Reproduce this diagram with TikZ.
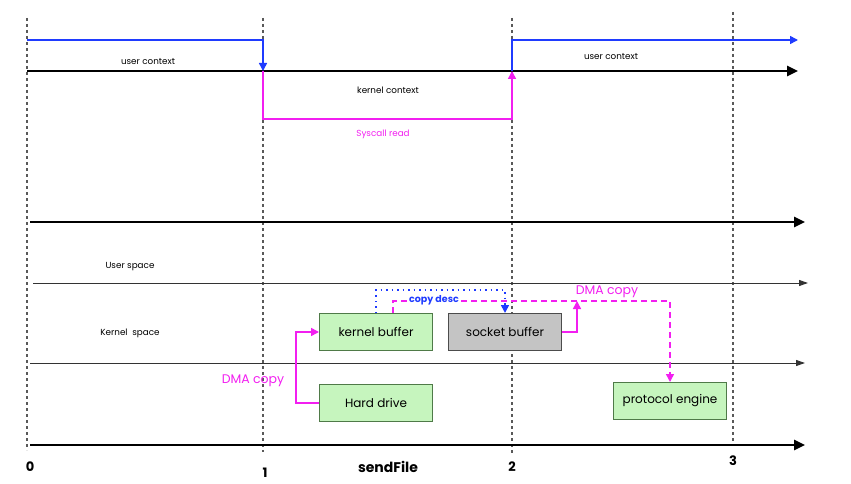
\documentclass[tikz,border=0pt]{standalone}
\usepackage{fontspec}
\setmainfont{Poppins}
\usetikzlibrary{arrows.meta,positioning}

\definecolor{ctxblue}{HTML}{1F3BFF}
\definecolor{callpink}{HTML}{F21FF0}
\definecolor{boxgreen}{HTML}{C6F5BE}
\definecolor{boxedge}{HTML}{4F7A48}
\definecolor{boxgray}{HTML}{C4C4C4}

\tikzset{
  tick/.style={gray!70!black, line width=1.2pt, dash pattern=on 3pt off 3pt},
  axis/.style={black, line width=2.6pt, -{Triangle[length=11pt,width=10pt]}},
  layer/.style={black!80, line width=1pt, -{Triangle[length=9pt,width=6pt]}},
  ctx/.style={ctxblue, line width=1.5pt, -{Triangle[length=8pt,width=8pt]}},
  call/.style={callpink, line width=1.5pt, -{Triangle[length=8pt,width=8pt]}},
  dma/.style={call, dash pattern=on 6pt off 4pt},
  desc/.style={ctxblue, line width=1.6pt, dash pattern=on 1.5pt off 4pt, -{Triangle[length=8pt,width=8pt]}},
  buf/.style={draw=boxedge, fill=boxgreen, line width=1pt, minimum width=113pt, minimum height=37pt, font=\fontsize{12}{14}\selectfont},
  small/.style={font=\fontsize{8.8}{10}\selectfont},
  num/.style={font=\fontsize{13}{15}\selectfont\bfseries}
}

\begin{document}
\begin{tikzpicture}[x=1pt,y=-1pt]
        \useasboundingbox (0,0) rectangle (851,484);

        % Draw time ticks
        \foreach \x/\top/\bot in {27/18/450, 263/18/452, 512/18/455, 733/12/442}
            \draw[tick] (\x,\top) -- (\x,\bot);

        % Context switches
        \coordinate (u0) at (27,40);
        \coordinate (u1) at (263,40);
        \coordinate (k1) at (263,71);
        \coordinate (k2) at (512,71);
        \coordinate (u2) at (512,40);
        \coordinate (uend) at (798,40);
        \coordinate (r1) at (263,119);
        \coordinate (r2) at (512,119);

        \draw[axis] (27,71) -- (798,71);
        \draw[ctx] (u0) -- (u1) -- (k1);
        \draw[ctx] (k2) -- (u2) -- (uend);
        \draw[call] (k1) -- (r1) -- (r2) -- (k2);

        \node[small] (uctx1) at (148,62) {user context};
        \node[small] (kctx) at (388,90) {kernel context};
        \node[small] (uctx2) at (611,57) {user context};
        \node[small, text=callpink] (sysread) at (383,134) {Syscall read};

        % Spaces
        \draw[axis] (30,222) -- (805,222);
        \draw[layer] (33,283) -- (808,283);
        \draw[layer] (30,363) -- (805,363);
        \draw[axis] (30,445) -- (805,445);

        \node[small] (uspace) at (130,267) {User space};
        \node[small] (kspace) at (130,333) {Kernel\ \ space};

        % Time labels
        \node[num] (t0) at (30,467) {0};
        \node[num] (t1) at (265,473) {1};
        \node[num] (t2) at (512,467) {2};
        \node[num] (t3) at (733,461) {3};
        \node[font=\fontsize{14}{16}\selectfont\bfseries] (title) at (388,467) {sendFile};

        % Buffers
        \node[buf] (kbuf) at (376,332) {kernel buffer};
        \node[buf, fill=boxgray, draw=black!70, right=15pt of kbuf] (sbuf) {socket buffer};
        \node[buf, below=33pt of kbuf] (hdd) {Hard drive};
        \node[buf] (proto) at (670,401) {protocol engine};

        % Copies
        \coordinate (join) at (577,301);
        \draw[dma] ([xshift=17pt]kbuf.north) -- ++(0,-12) -| (proto.north);
        \draw[call] (hdd.west) -- ++(-23,0) |- (kbuf.west);
        \draw[call] (sbuf.east) -| (join);
        \draw[desc] (kbuf.north) -- ++(0,-23) -| (sbuf.north);

        \node[fill=white, inner sep=1pt, text=ctxblue, font=\fontsize{9.5}{11}\selectfont\bfseries] (desclbl) at (434,300) {copy desc};
        \node[text=callpink, font=\fontsize{12.5}{14}\selectfont] (dma1) at (253,381) {DMA copy};
        \node[text=callpink, font=\fontsize{12.5}{14}\selectfont] (dma2) at (607,292) {DMA copy};

\end{tikzpicture}
\end{document}
